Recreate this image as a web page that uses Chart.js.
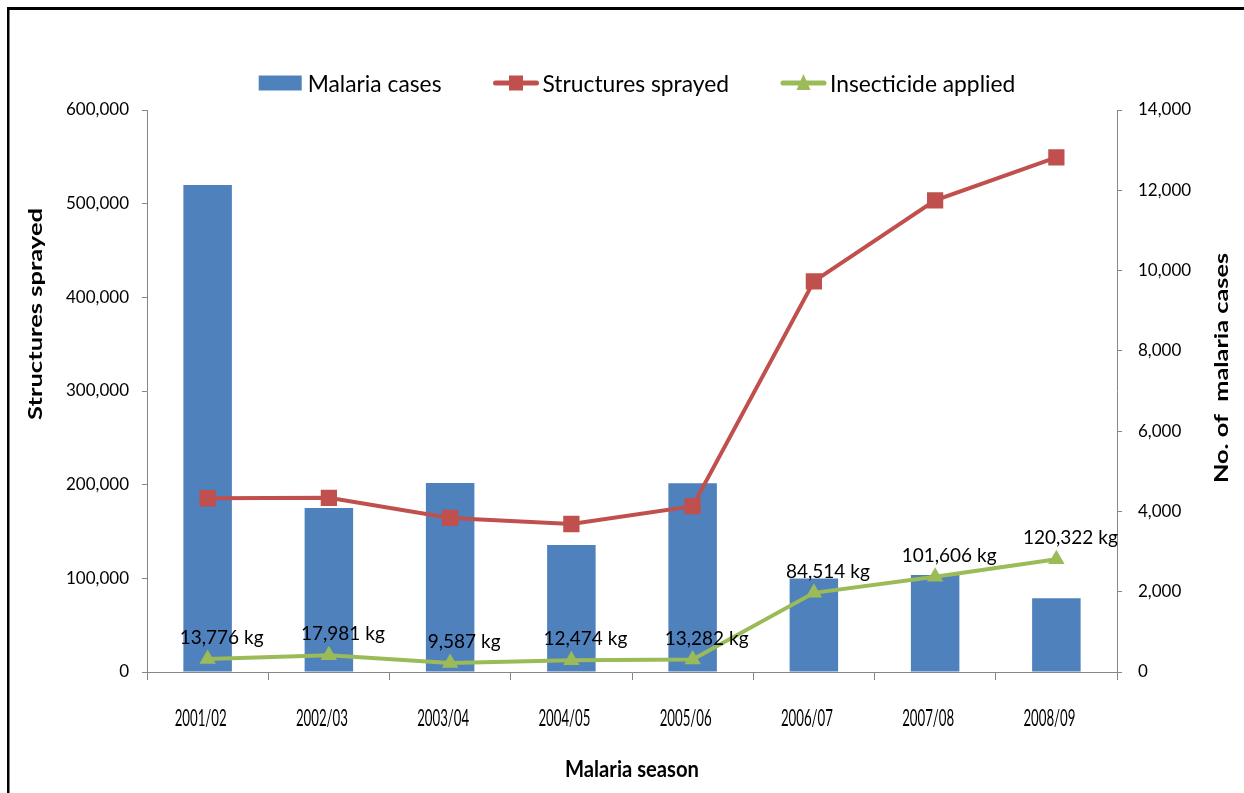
<!DOCTYPE html>
<html>
<head>
<meta charset="utf-8">
<script src="https://cdn.jsdelivr.net/npm/chart.js@4/dist/chart.umd.min.js"></script>
<style>
  html, body { margin: 0; padding: 0; background: #fff; }
</style>
</head>
<body>
<canvas id="myChart" width="1244" height="793"></canvas>
<script>
// seasons and the three series
const seasons = ['2001/02', '2002/03', '2003/04', '2004/05', '2005/06', '2006/07', '2007/08', '2008/09'];
const malariaCases = [12130, 4085, 4710, 3165, 4705, 2330, 2415, 1840];
const structuresSprayed = [185500, 186000, 164500, 158000, 177000, 417000, 503500, 549500];
const insecticideKg = [13776, 17981, 9587, 12474, 13282, 84514, 101606, 120322];

// axis ranges
const sprayedTicks = [0, 100000, 200000, 300000, 400000, 500000, 600000];
const casesTicks = [0, 2000, 4000, 6000, 8000, 10000, 12000, 14000];

const FONT = "Lato, 'Open Sans', sans-serif";
const AXIS_GREY = '#868686';
const BLUE = '#4F81BD', RED = '#C0504D', GREEN = '#9BBB59';

function fmt(n) {
    return Number(n).toLocaleString('en-US');
}

// text squeezed (or stretched) along its own direction
function drawScaled(c, text, x, y, sx, angle) {
    c.save();
    c.translate(x, y);
    if (angle) c.rotate(angle);
    c.scale(sx, 1);
    c.fillText(text, 0, 0);
    c.restore();
}

// black frame round the figure (top and left edges only show)
const frame = {
    id: 'frame',
    beforeDraw(chart) {
        const c = chart.ctx;
        c.save();
        c.fillStyle = '#000';
        c.fillRect(7, 7, chart.width - 7, 3);
        c.fillRect(7, 7, 2.5, chart.height - 7);
        c.restore();
    }
};

// legend row: icon + label for each series
const seriesKey = {
    id: 'seriesKey',
    afterDraw(chart) {
        const c = chart.ctx;
        const sets = chart.data.datasets;
        const iconW = 45, textGap = 4, itemGap = 52, y = 83;
        c.save();
        c.font = '24px ' + FONT;
        c.textBaseline = 'middle';
        const sx = 0.95;
        const widths = sets.map(d => c.measureText(d.label).width * sx);
        let total = itemGap * (sets.length - 1);
        widths.forEach(w => { total += iconW + textGap + w; });
        let x = 637 - total / 2;
        sets.forEach((d, i) => {
            const col = d.borderColor || d.backgroundColor;
            if (d.type === 'bar') {
                c.fillStyle = d.backgroundColor;
                c.fillRect(x, y - 7.5, iconW - 2, 15);
            } else {
                c.strokeStyle = col;
                c.lineWidth = 5;
                c.lineCap = 'round';
                c.beginPath();
                c.moveTo(x + 2, y);
                c.lineTo(x + iconW - 2, y);
                c.stroke();
                c.fillStyle = col;
                const cx = x + iconW / 2;
                if (d.pointStyle === 'rect') {
                    c.fillRect(cx - 7, y - 7.5, 14, 15);
                } else {
                    c.beginPath();
                    c.moveTo(cx, y - 9);
                    c.lineTo(cx + 7, y + 7);
                    c.lineTo(cx - 7, y + 7);
                    c.closePath();
                    c.fill();
                }
            }
            c.fillStyle = '#000';
            drawScaled(c, d.label, x + iconW + textGap, y + 1, sx);
            x += iconW + textGap + widths[i] + itemGap;
        });
        c.restore();
    }
};

// "xx,xxx kg" above each insecticide point
const kgLabels = {
    id: 'kgLabels',
    afterDatasetsDraw(chart) {
        const c = chart.ctx;
        const meta = chart.getDatasetMeta(2);
        c.save();
        c.font = '19px ' + FONT;
        c.fillStyle = '#000';
        c.textAlign = 'center';
        c.textBaseline = 'middle';
        meta.data.forEach((pt, i) => {
            c.fillText(fmt(insecticideKg[i]) + ' kg', pt.x + 14, pt.y - 21);
        });
        c.restore();
    }
};

// season labels and axis titles, drawn in the narrow, tall lettering of the figure
const axisText = {
    id: 'axisText',
    afterDraw(chart) {
        const c = chart.ctx;
        const xs = chart.scales.x;
        c.save();
        c.fillStyle = '#000';
        c.textAlign = 'center';
        c.textBaseline = 'middle';

        c.font = '23px ' + FONT;
        const sx = 52 / c.measureText(seasons[0]).width;
        seasons.forEach((s, i) => drawScaled(c, s, xs.getPixelForValue(i) - 7, 719, sx));

        c.font = 'bold 23px ' + FONT;
        const title = 'Malaria season';
        drawScaled(c, title, (xs.left + xs.right) / 2, 770, 134 / c.measureText(title).width);

        c.font = 'bold 18px ' + FONT;
        [[36, 314, 212, 'Structures sprayed'], [1222, 368, 230, 'No. of  malaria cases']].forEach(t => {
            drawScaled(c, t[3], t[0], t[1], t[2] / c.measureText(t[3]).width, -Math.PI / 2);
        });
        c.restore();
    }
};

const ctx = document.getElementById('myChart').getContext('2d');

const myChart = new Chart(ctx, {
    data: {
        labels: seasons,
        datasets: [{
            type: 'bar',
            label: 'Malaria cases',
            data: malariaCases,
            yAxisID: 'y1',
            backgroundColor: BLUE,
            categoryPercentage: 1,
            barPercentage: 0.4,
            order: 3
        }, {
            type: 'line',
            label: 'Structures sprayed',
            data: structuresSprayed,
            yAxisID: 'y',
            borderColor: RED,
            backgroundColor: RED,
            borderWidth: 4,
            tension: 0,
            pointStyle: 'rect',
            pointRadius: 11.5,
            pointBorderWidth: 0,
            order: 2
        }, {
            type: 'line',
            label: 'Insecticide applied',
            data: insecticideKg,
            yAxisID: 'y',
            borderColor: GREEN,
            backgroundColor: GREEN,
            borderWidth: 4,
            tension: 0,
            pointStyle: 'triangle',
            pointRadius: 9.5,
            pointBorderWidth: 0,
            order: 1
        }]
    },
    options: {
        responsive: false,
        animation: false,
        layout: { padding: { top: 110, left: 0, right: 0, bottom: 0 } },
        plugins: {
            legend: { display: false },
            tooltip: { enabled: false }
        },
        scales: {
            x: {
                type: 'category',
                offset: true,
                grid: { offset: true, drawOnChartArea: false, drawTicks: true, tickLength: 8, color: AXIS_GREY },
                border: { color: AXIS_GREY },
                ticks: { display: false },
                afterFit(scale) { scale.height = 121; }
            },
            y: {
                position: 'left',
                min: sprayedTicks[0],
                max: sprayedTicks[sprayedTicks.length - 1],
                grid: { drawOnChartArea: false, tickLength: 5, color: AXIS_GREY },
                border: { color: AXIS_GREY },
                ticks: {
                    stepSize: sprayedTicks[1] - sprayedTicks[0],
                    color: '#000',
                    font: { family: FONT, size: 17 },
                    padding: 13,
                    callback: v => fmt(v)
                },
                afterFit(scale) { scale.width = 147; }
            },
            y1: {
                position: 'right',
                min: casesTicks[0],
                max: casesTicks[casesTicks.length - 1],
                grid: { drawOnChartArea: false, tickLength: 5, color: AXIS_GREY },
                border: { color: AXIS_GREY },
                ticks: {
                    stepSize: casesTicks[1] - casesTicks[0],
                    color: '#000',
                    font: { family: FONT, size: 17 },
                    padding: 16,
                    callback: v => fmt(v)
                },
                afterFit(scale) { scale.width = 127; }
            }
        }
    },
    plugins: [frame, seriesKey, kgLabels, axisText]
});
</script>
</body>
</html>
